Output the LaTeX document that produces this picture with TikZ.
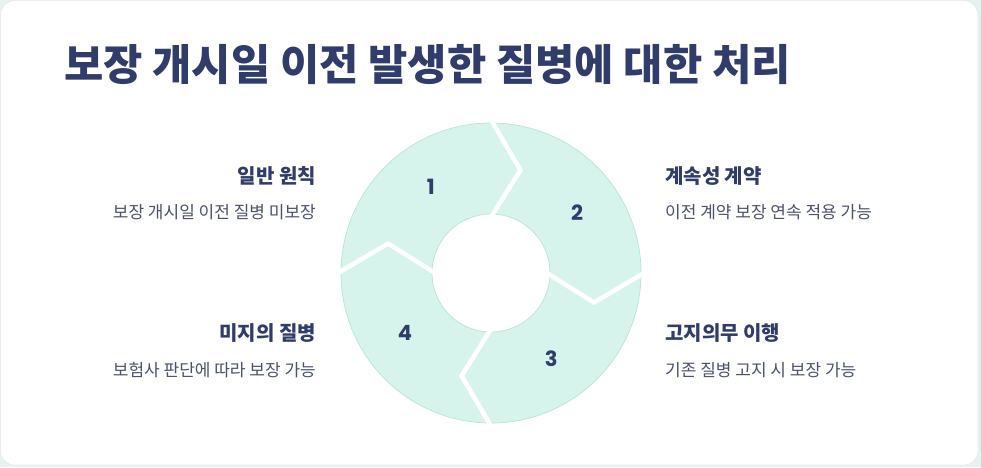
\documentclass[tikz,border=0pt]{standalone}
\usepackage{fontspec}
\usepackage{xcolor}
\usetikzlibrary{calc}
\newfontfamily\krfont{Noto Sans CJK KR}
\newfontfamily\numfont{Poppins}
\definecolor{navy}{HTML}{2F3C6C}
\definecolor{subgray}{HTML}{4B5270}
\definecolor{mintfill}{HTML}{D6F4EB}
\definecolor{mintedge}{HTML}{B9E4D6}
\definecolor{pagebg}{HTML}{E6F2EE}

\tikzset{
  segpart/.style={fill=mintfill, draw=mintedge, line width=0.7},
  gapline/.style={draw=white, line width=4.5, line join=miter},
  numlabel/.style={font=\numfont\bfseries\fontsize{21}{25}\selectfont, text=navy},
  headlabel/.style={font=\krfont\bfseries\fontsize{20}{24}\selectfont, text=navy, inner sep=0},
  desclabel/.style={font=\krfont\fontsize{17}{20}\selectfont, text=subgray, inner sep=0}
}

\begin{document}
\begin{tikzpicture}[x=1pt, y=1pt]
    \useasboundingbox (0,0) rectangle (981,467);
    \fill[pagebg] (0,0) rectangle (981,467);
    \draw[fill=white, draw=black!12, rounded corners=14] (0.5,2) rectangle (978,466.5);

    \node[font=\krfont\bfseries\fontsize{42.7}{50}\selectfont, text=navy, anchor=west, inner sep=0] (title) at (64,402) {보장 개시일 이전 발생한 질병에 대한 처리};

    % ring of four arrow segments
    \begin{scope}[shift={(491,194)}]
        \foreach \a in {180,90,0,-90} {
            \path[segpart] (\a:150) arc[start angle=\a, end angle=\a-90, radius=150]
                -- (\a-106:107) -- (\a-90:59) arc[start angle=\a-90, end angle=\a, radius=59]
                -- (\a-16:107) -- cycle;
        }
        \foreach \a in {180,90,0,-90} {
            \draw[gapline] (\a:153) -- (\a-16:107) -- (\a:56);
        }
        \node[numlabel] (n1) at (125:105) {1};
        \node[numlabel] (n2) at (35:105) {2};
        \node[numlabel] (n3) at (-55:105) {3};
        \node[numlabel] (n4) at (215:105) {4};
    \end{scope}

    \node[headlabel, anchor=east] (h1) at (316,291) {일반 원칙};
    \node[desclabel, anchor=east] (d1) at (316,255) {보장 개시일 이전 질병 미보장};
    \node[headlabel, anchor=west] (h2) at (665,291) {계속성 계약};
    \node[desclabel, anchor=west] (d2) at (665,255) {이전 계약 보장 연속 적용 가능};
    \node[headlabel, anchor=west] (h3) at (665,134) {고지의무 이행};
    \node[desclabel, anchor=west] (d3) at (665,97) {기존 질병 고지 시 보장 가능};
    \node[headlabel, anchor=east] (h4) at (316,134) {미지의 질병};
    \node[desclabel, anchor=east] (d4) at (316,97) {보험사 판단에 따라 보장 가능};
\end{tikzpicture}
\end{document}
